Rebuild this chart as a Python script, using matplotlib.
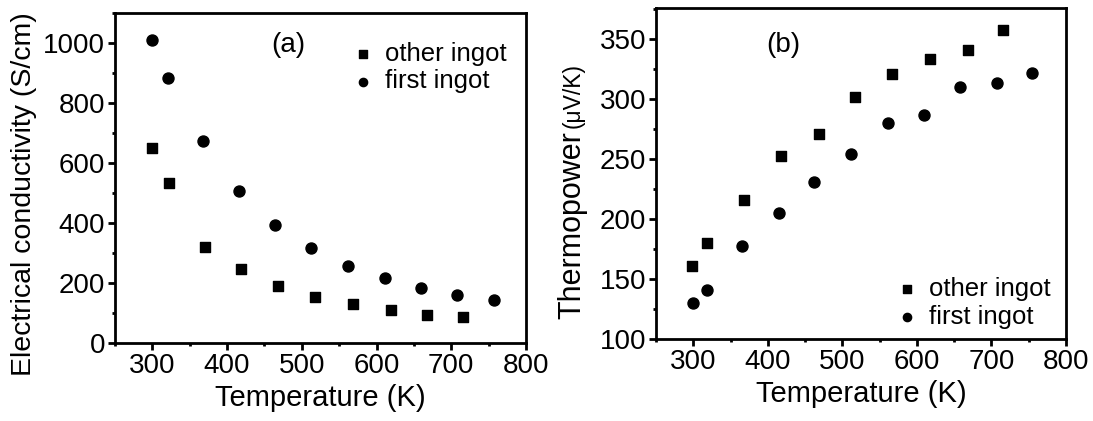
import matplotlib.pyplot as plt
from matplotlib.ticker import MultipleLocator

plt.rcParams['font.family'] = ['Liberation Sans', 'DejaVu Sans']

# (a) electrical conductivity
t_first_a = [300, 321, 368, 416, 464, 512, 562, 611, 659, 708, 757]
sigma_first = [1008, 883, 673, 506, 394, 316, 256, 217, 184, 161, 144]
t_other_a = [300, 322, 370, 419, 468, 518, 569, 619, 667, 716]
sigma_other = [651, 532, 321, 246, 191, 154, 129, 110, 94, 86]

# (b) thermopower
t_other_b = [298, 319, 368, 418, 468, 517, 567, 618, 668, 716]
s_other = [161, 180, 216, 253, 271, 302, 321, 334, 341, 358]
t_first_b = [299, 319, 366, 415, 462, 512, 561, 610, 658, 707, 755]
s_first = [130, 141, 178, 205, 231, 254, 280, 287, 310, 314, 322]

fig = plt.figure(figsize=(10.93, 4.21), dpi=100)
ax1 = fig.add_axes([0.1052, 0.1853, 0.3760, 0.7845])
ax2 = fig.add_axes([0.6002, 0.1948, 0.3751, 0.7855])

def style(ax):
    for s in ax.spines.values():
        s.set_linewidth(2.0)
    ax.tick_params(which='both', direction='out', top=False, right=False,
                   width=2.0, labelsize=20, pad=2)
    ax.tick_params(which='major', length=5)
    ax.tick_params(which='minor', length=2)
    ax.xaxis.set_major_locator(MultipleLocator(100))
    ax.xaxis.set_minor_locator(MultipleLocator(50))

def add_legend(ax, x, y):
    ax.legend(loc='center left', bbox_to_anchor=(x, y), frameon=False,
              fontsize=18.5, handlelength=0.8, handletextpad=0.45,
              labelspacing=0.15, borderpad=0, borderaxespad=0,
              markerscale=0.75)

ax1.scatter(t_other_a, sigma_other, marker='s', s=52, color='black', label='other ingot')
ax1.scatter(t_first_a, sigma_first, marker='o', s=63, color='black', label='first ingot')
ax1.set_xlim(250, 800)
ax1.set_ylim(0, 1100)
style(ax1)
ax1.yaxis.set_major_locator(MultipleLocator(200))
ax1.yaxis.set_minor_locator(MultipleLocator(100))
ax1.set_xlabel('Temperature (K)', fontsize=21, labelpad=4)
ax1.set_ylabel('Electrical conductivity (S/cm)', fontsize=20.5)
ax1.yaxis.set_label_coords(-0.19, 0.45)
ax1.text(0.421, 0.903, '(a)', transform=ax1.transAxes, fontsize=20,
         ha='center', va='center')
add_legend(ax1, 0.579, 0.834)

ax2.scatter(t_other_b, s_other, marker='s', s=52, color='black', label='other ingot')
ax2.scatter(t_first_b, s_first, marker='o', s=63, color='black', label='first ingot')
ax2.set_xlim(250, 800)
ax2.set_ylim(100, 376)
style(ax2)
ax2.yaxis.set_major_locator(MultipleLocator(50))
ax2.yaxis.set_minor_locator(MultipleLocator(25))
ax2.set_xlabel('Temperature (K)', fontsize=21, labelpad=4)
ax2.text(0.311, 0.89, '(b)', transform=ax2.transAxes, fontsize=20,
         ha='center', va='center')
add_legend(ax2, 0.588, 0.110)

# y label of (b): smaller unit part on the same baseline
fig.text(0.5307, 0.689, 'Thermopower', fontsize=22, rotation=90,
         rotation_mode='anchor', ha='right', va='baseline')
fig.text(0.5307, 0.696, '(\u03bcV/K)', fontsize=16.5, rotation=90,
         rotation_mode='anchor', ha='left', va='baseline')

fig.savefig('out.png', dpi=100)
